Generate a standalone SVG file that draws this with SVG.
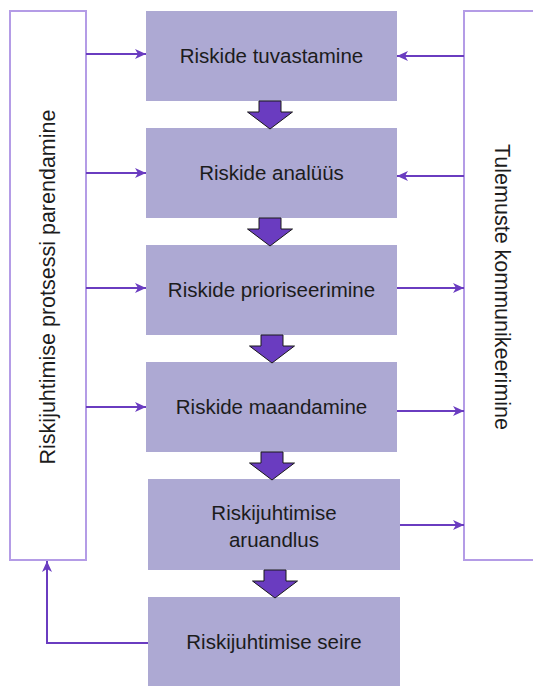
<svg xmlns="http://www.w3.org/2000/svg" width="533" height="686" viewBox="0 0 533 686">
  <style>
    .step { fill: #ada9d3; }
    .side { fill: #ffffff; stroke: #b49ce6; stroke-width: 2; }
    .label { font-family: "Liberation Sans", Arial, sans-serif; font-size: 20.5px; fill: #1c1c1c; text-anchor: middle; }
    .vlabel { font-family: "Liberation Sans", Arial, sans-serif; font-size: 21.5px; fill: #1c1c1c; text-anchor: middle; }
    .link { fill: none; stroke: #6a3cc0; stroke-width: 2; marker-end: url(#tip); }
    .flow { fill: #6a3cc0; stroke: #1a1a1a; stroke-width: 1; stroke-linejoin: miter; }
  </style>
  <defs>
    <marker id="tip" markerUnits="userSpaceOnUse" markerWidth="12" markerHeight="10" refX="11" refY="5" orient="auto">
      <path d="M0,0 L11,5 L0,10 L3,5 Z" fill="#6a3cc0"/>
    </marker>
  </defs>

  <rect width="533" height="686" fill="#ffffff"/>

  <!-- side panels -->
  <g id="improve">
    <rect class="side" x="10" y="11" width="76" height="549"/>
    <text class="vlabel" x="48" y="293.5" transform="rotate(-90 48 287)">Riskijuhtimise protsessi parendamine</text>
  </g>
  <g id="report">
    <rect class="side" x="464" y="11" width="80" height="549"/>
    <text class="vlabel" x="502" y="294.5" transform="rotate(90 502 287)">Tulemuste kommunikeerimine</text>
  </g>

  <!-- process steps -->
  <g id="identify">
    <rect class="step" x="146" y="11" width="251" height="90"/>
    <text class="label" x="271.5" y="63">Riskide tuvastamine</text>
  </g>
  <g id="analyse">
    <rect class="step" x="146" y="128" width="251" height="90"/>
    <text class="label" x="271.5" y="180">Riskide analüüs</text>
  </g>
  <g id="prioritise">
    <rect class="step" x="146" y="245" width="251" height="90"/>
    <text class="label" x="271.5" y="297">Riskide prioriseerimine</text>
  </g>
  <g id="mitigate">
    <rect class="step" x="146" y="362" width="251" height="90"/>
    <text class="label" x="271.5" y="414">Riskide maandamine</text>
  </g>
  <g id="reporting">
    <rect class="step" x="148" y="479" width="252" height="91"/>
    <text class="label" x="274" y="520">Riskijuhtimise</text>
    <text class="label" x="274" y="547">aruandlus</text>
  </g>
  <g id="monitor">
    <rect class="step" x="148" y="597" width="252" height="95"/>
    <text class="label" x="274" y="649">Riskijuhtimise seire</text>
  </g>

  <!-- connectors -->
  <g id="connectors">
    <!-- block arrows between steps -->
    <path class="flow" d="M259,101 H281 V112 H292.5 L270,129 L247.5,112 H259 Z"/>
    <path class="flow" d="M259,218 H281 V229 H292.5 L270,246 L247.5,229 H259 Z"/>
    <path class="flow" d="M261,335 H283 V346 H294.5 L272,363 L249.5,346 H261 Z"/>
    <path class="flow" d="M261,452 H283 V463 H294.5 L272,480 L249.5,463 H261 Z"/>
    <path class="flow" d="M264,570 H286 V581 H297.5 L275,598 L252.5,581 H264 Z"/>

    <!-- improvement feeds each step -->
    <path class="link" d="M86,54 H146"/>
    <path class="link" d="M86,173 H146"/>
    <path class="link" d="M86,288 H146"/>
    <path class="link" d="M86,407 H146"/>

    <!-- communication -->
    <path class="link" d="M464,56 H397"/>
    <path class="link" d="M464,176 H397"/>
    <path class="link" d="M397,288 H464"/>
    <path class="link" d="M397,411 H464"/>
    <path class="link" d="M400,525 H464"/>

    <!-- monitoring loops back -->
    <path class="link" d="M148,643 H47 V561"/>
  </g>
</svg>
